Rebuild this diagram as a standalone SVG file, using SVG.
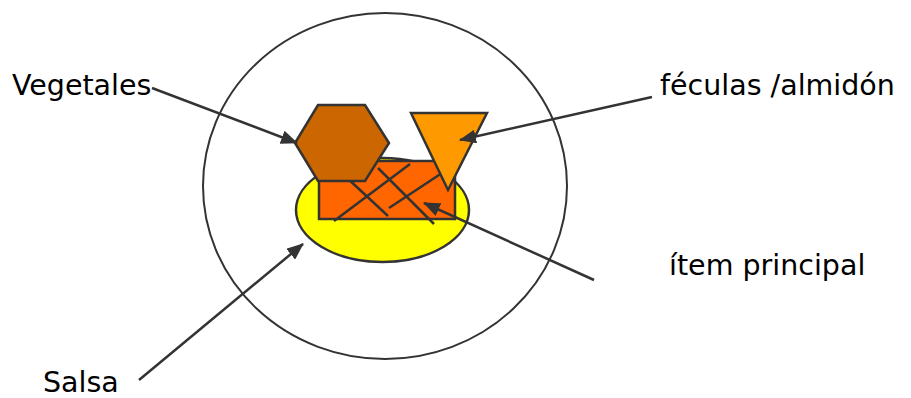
<svg xmlns="http://www.w3.org/2000/svg" width="911" height="398" viewBox="0 0 911 398">
<style>
.shape{stroke:#333333;stroke-width:2.5;stroke-linejoin:miter}
.hatch{stroke:#333333;stroke-width:2.5;fill:none}
.conn{stroke:#333333;stroke-width:2.5;fill:none;marker-end:url(#ah)}
.lbl{font-family:"DejaVu Sans",Verdana,sans-serif;font-size:28.5px;fill:#000000}
</style>
<defs>
<marker id="ah" markerUnits="userSpaceOnUse" markerWidth="18" markerHeight="14" refX="16" refY="7" orient="auto">
<path d="M0,0 L17,7 L0,14 Z" fill="#333333"/>
</marker>
</defs>
<rect width="911" height="398" fill="#ffffff"/>
<g id="plate"><ellipse cx="385" cy="186" rx="182" ry="173" fill="none" stroke="#333333" stroke-width="2"/></g>
<g id="salsa"><ellipse class="shape" cx="382.5" cy="210" rx="86.5" ry="52" fill="#FFFF00"/></g>
<g id="item"><rect class="shape" x="319" y="161" width="136" height="58" fill="#FF6600"/>
<line class="hatch" x1="334" y1="221" x2="410" y2="164"/>
<line class="hatch" x1="345" y1="176" x2="388" y2="216"/>
<line class="hatch" x1="378" y1="168" x2="434" y2="224"/>
<line class="hatch" x1="389" y1="208" x2="442" y2="173"/>
</g>
<g id="vegetales"><polygon class="shape" points="318,105 365,105 389,143 365,181 318,181 295,143" fill="#CC6600"/></g>
<g id="feculas"><polygon class="shape" points="411,113 487,113 448,190" fill="#FF9900"/></g>
<g id="connectors">
<line class="conn" x1="152" y1="88" x2="297" y2="143"/>
<line class="conn" x1="652" y1="97" x2="460" y2="140"/>
<line class="conn" x1="594" y1="280" x2="424" y2="203"/>
<line class="conn" x1="139" y1="380" x2="303" y2="244"/>
</g>
<g id="labels">
<text class="lbl" x="12" y="95">Vegetales</text>
<text class="lbl" x="660" y="95">féculas /almidón</text>
<text class="lbl" x="669" y="275">ítem principal</text>
<text class="lbl" x="43" y="392">Salsa</text>
</g>
</svg>
